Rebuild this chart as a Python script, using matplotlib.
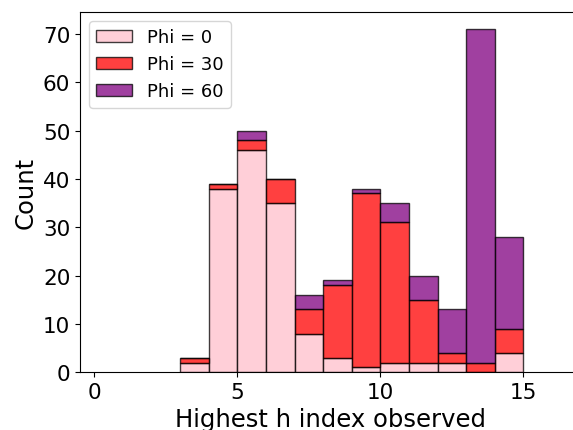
import numpy as np
import matplotlib
matplotlib.use("Agg")
import matplotlib.pyplot as plt

# Histogram bins (h index) and stacked counts per series
bin_edges = np.arange(3, 16)
bin_lefts = bin_edges[:-1]
phi0 = [2, 38, 46, 35, 8, 3, 1, 2, 2, 2, 0, 4]
phi30 = [1, 1, 2, 5, 5, 15, 36, 29, 13, 2, 2, 5]
phi60 = [0, 0, 2, 0, 3, 1, 1, 4, 5, 9, 69, 19]
labels = ["Phi = 0", "Phi = 30", "Phi = 60"]
colors = ["pink", "red", "purple"]

fig = plt.figure(figsize=(5.73, 4.31), dpi=100)
ax = fig.add_axes([80 / 573, (431 - 373.3) / 431, 500.5 / 573, (373.3 - 13) / 431])

ax.hist([bin_lefts, bin_lefts, bin_lefts], bins=bin_edges,
        weights=[phi0, phi30, phi60], stacked=True,
        color=colors, alpha=0.75, edgecolor="black", label=labels)

ax.set_xlim(-0.5, 17)
ax.set_xticks([0, 5, 10, 15])
ax.set_yticks(range(0, 71, 10))
ax.tick_params(labelsize=15.5)
ax.set_xlabel("Highest h index observed", fontsize=17.5, labelpad=3.5)
ax.set_ylabel("Count", fontsize=17.5)
ax.legend(loc="upper left", fontsize=13)

fig.savefig("out.png", dpi=100)
